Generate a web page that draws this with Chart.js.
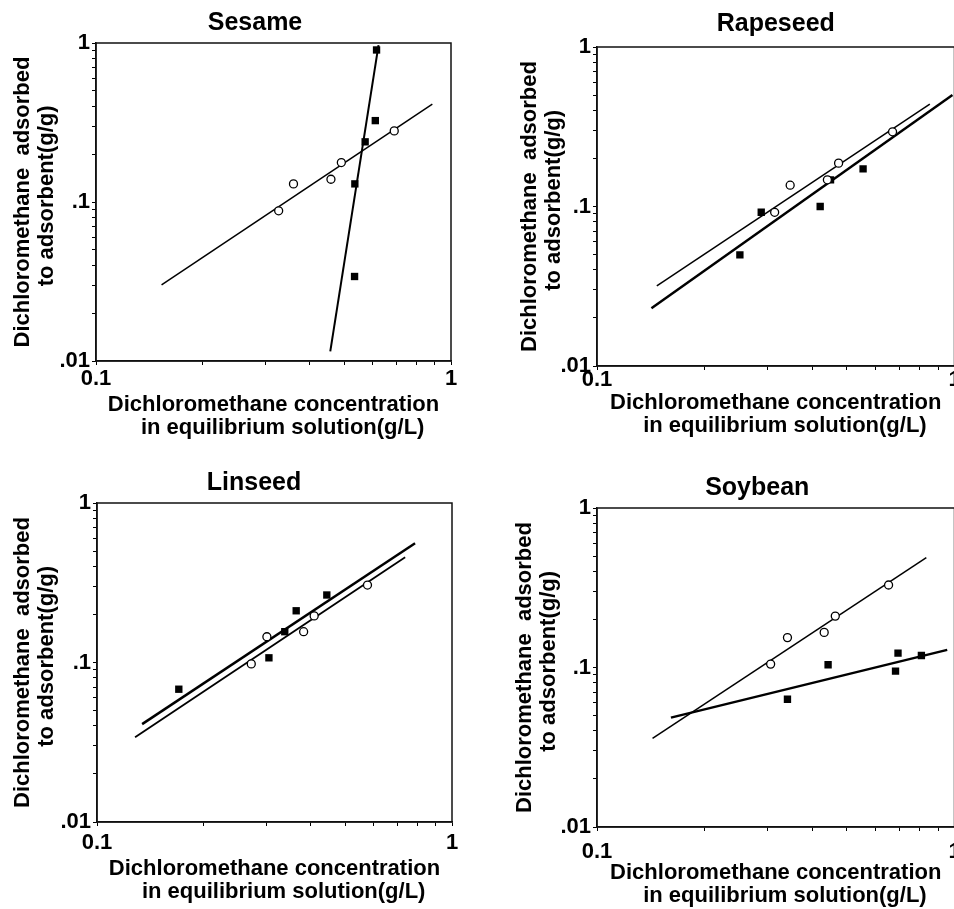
<!DOCTYPE html>
<html>
<head>
<meta charset="utf-8">
<script src="https://cdn.jsdelivr.net/npm/chart.js@4.4.1/dist/chart.umd.min.js"></script>
<style>
html,body{margin:0;padding:0;background:#fff;overflow:hidden;width:954px;height:909px;}
#wrap{position:relative;width:954px;height:909px;overflow:hidden;background:#fff;}
canvas{position:absolute;}
</style>
</head>
<body>
<div id="wrap">
<canvas id="c1"></canvas>
<canvas id="c2"></canvas>
<canvas id="c3"></canvas>
<canvas id="c4"></canvas>
</div>
<script>
// ---------- DATA ----------
const panelTitles = ['Sesame', 'Rapeseed', 'Linseed', 'Soybean'];
const xAxisTitle = ['Dichloromethane concentration', '   in equilibrium solution(g/L)'];
const yAxisTitle = ['Dichloromethane  adsorbed', '  to adsorbent(g/g)'];

const xTickValues = [0.1, 0.2, 0.3, 0.4, 0.5, 0.6, 0.7, 0.8, 0.9, 1];
const yTickValues = [0.01, 0.02, 0.03, 0.04, 0.05, 0.06, 0.07, 0.08, 0.09,
                     0.1, 0.2, 0.3, 0.4, 0.5, 0.6, 0.7, 0.8, 0.9, 1];
const xLabelValues = [0.1, 1];
const xLabelTexts = ['0.1', '1'];
const yLabelValues = [0.01, 0.1, 1];
const yLabelTexts = ['.01', '.1', '1'];

// Sesame
const sesameCircleX = [0.327, 0.360, 0.459, 0.491, 0.692];
const sesameCircleY = [0.088, 0.130, 0.139, 0.177, 0.280];
const sesameSquareX = [0.535, 0.536, 0.573, 0.612, 0.617];
const sesameSquareY = [0.034, 0.130, 0.239, 0.325, 0.904];
const sesameCircleFitX = [0.153, 0.886];
const sesameCircleFitY = [0.0301, 0.413];
const sesameSquareFitX = [0.457, 0.625];
const sesameSquareFitY = [0.0115, 0.971];

// Rapeseed
const rapeCircleX = [0.314, 0.347, 0.441, 0.474, 0.671];
const rapeCircleY = [0.092, 0.136, 0.147, 0.187, 0.294];
const rapeSquareX = [0.251, 0.288, 0.421, 0.450, 0.555];
const rapeSquareY = [0.0497, 0.092, 0.100, 0.147, 0.172];
const rapeCircleFitX = [0.147, 0.853];
const rapeCircleFitY = [0.0318, 0.439];
const rapeSquareFitX = [0.142, 0.987];
const rapeSquareFitY = [0.023, 0.500];

// Linseed
const linCircleX = [0.272, 0.301, 0.382, 0.409, 0.578];
const linCircleY = [0.098, 0.145, 0.156, 0.196, 0.306];
const linSquareX = [0.170, 0.305, 0.338, 0.364, 0.444];
const linSquareY = [0.068, 0.107, 0.156, 0.211, 0.265];
const linCircleFitX = [0.128, 0.738];
const linCircleFitY = [0.034, 0.457];
const linSquareFitX = [0.134, 0.787];
const linSquareFitY = [0.0411, 0.559];

// Soybean
const soyCircleX = [0.306, 0.341, 0.432, 0.464, 0.654];
const soyCircleY = [0.105, 0.154, 0.166, 0.210, 0.329];
const soySquareX = [0.341, 0.443, 0.684, 0.695, 0.808];
const soySquareY = [0.0632, 0.104, 0.095, 0.123, 0.119];
const soyCircleFitX = [0.143, 0.834];
const soyCircleFitY = [0.036, 0.488];
const soySquareFitX = [0.161, 0.954];
const soySquareFitY = [0.0485, 0.129];

// ---------- LAYOUT (positions / styles) ----------
const layouts = [
  {cx: 0,   cy: 0,   W: 477, H: 445, pl: 59, pr: 26,   pb: 5.45, yw: 37, xh: 78.55, tpt: 8,    tpb: 5,   tfs: true,  ytp: -48.1, xtp: 3,  lw: [1.5, 2.0]},
  {cx: 477, cy: 0,   W: 500, H: 445, pl: 70, pr: 22.5, pb: 7.45, yw: 50, xh: 71.55, tpt: 9,    tpb: 8,   tfs: false, ytp: -29.1, xtp: -1, lw: [1.5, 2.5]},
  {cx: 0,   cy: 454, W: 477, H: 455, pl: 56, pr: 25,   pb: 5.45, yw: 41, xh: 81.55, tpt: 14.5, tpb: 4.5, tfs: true,  ytp: -45.1, xtp: 6,  lw: [1.8, 2.5]},
  {cx: 477, cy: 454, W: 500, H: 455, pl: 83, pr: 22.5, pb: 1.45, yw: 37, xh: 80.55, tpt: 19.5, tpb: 4.5, tfs: true,  ytp: -47.1, xtp: 10, lw: [1.5, 2.5]}
];

Chart.defaults.font.family = '"Liberation Sans", Arial, Helvetica, sans-serif';
Chart.defaults.color = '#000';

function labelOf(v, vals, texts) {
  for (let i = 0; i < vals.length; i++) {
    if (Math.abs(v - vals[i]) < 1e-9) return texts[i];
  }
  return '';
}
function pts(xs, ys) { return xs.map((x, i) => ({x: x, y: ys[i]})); }

const framePlugin = {
  id: 'frame',
  beforeDatasetsDraw(chart) {
    const a = chart.chartArea, ctx = chart.ctx;
    ctx.save();
    ctx.strokeStyle = '#111';
    ctx.lineWidth = 1.5;
    ctx.strokeRect(a.left, a.top, a.right - a.left, a.bottom - a.top);
    ctx.restore();
  }
};

function makePanel(id, title, cX, cY, sX, sY, cfX, cfY, sfX, sfY, L) {
  const cv = document.getElementById(id);
  cv.width = L.W; cv.height = L.H;
  cv.style.left = L.cx + 'px'; cv.style.top = L.cy + 'px';
  cv.style.width = L.W + 'px'; cv.style.height = L.H + 'px';
  new Chart(cv, {
    type: 'scatter',
    data: {
      datasets: [
        {data: pts(cfX, cfY), showLine: true, borderColor: '#000', borderWidth: L.lw[0],
         pointRadius: 0, fill: false, order: 2},
        {data: pts(sfX, sfY), showLine: true, borderColor: '#000', borderWidth: L.lw[1],
         pointRadius: 0, fill: false, order: 2},
        {data: pts(cX, cY), pointStyle: 'circle', pointRadius: 4, borderWidth: 1.3,
         borderColor: '#000', backgroundColor: '#fff', order: 1},
        {data: pts(sX, sY), pointStyle: 'rect', pointRadius: 5.2, borderWidth: 0,
         borderColor: '#000', backgroundColor: '#000', order: 1}
      ]
    },
    options: {
      responsive: false,
      animation: false,
      events: [],
      layout: {padding: {left: L.pl, right: L.pr, top: 0, bottom: L.pb}},
      plugins: {
        legend: {display: false},
        tooltip: {enabled: false},
        title: {display: true, text: title, color: '#000', fullSize: L.tfs,
                font: {size: 25, weight: 'bold', lineHeight: 1.2},
                padding: {top: L.tpt, bottom: L.tpb}}
      },
      scales: {
        x: {
          type: 'logarithmic', min: 0.1, max: 1, position: 'bottom',
          afterBuildTicks: s => { s.ticks = xTickValues.map(v => ({value: v})); },
          afterFit: s => { s.height = L.xh; },
          ticks: {autoSkip: false, maxRotation: 0, minRotation: 0, padding: L.xtp, color: '#000',
                  font: {size: 22, weight: 'bold', lineHeight: 1},
                  callback: v => labelOf(v, xLabelValues, xLabelTexts)},
          grid: {drawOnChartArea: false, drawTicks: true, tickLength: 4, color: '#000', lineWidth: 1},
          border: {display: true, color: '#111', width: 1.5},
          title: {display: true, text: xAxisTitle, color: '#000',
                  font: {size: 22, weight: 'bold', lineHeight: 1.05},
                  padding: {top: 0, bottom: 0}}
        },
        y: {
          type: 'logarithmic', min: 0.01, max: 1, position: 'left',
          afterBuildTicks: s => { s.ticks = yTickValues.map(v => ({value: v})); },
          afterFit: s => { s.width = L.yw; },
          ticks: {autoSkip: false, padding: 2, color: '#000',
                  font: {size: 22, weight: 'bold', lineHeight: 1},
                  callback: v => labelOf(v, yLabelValues, yLabelTexts)},
          grid: {drawOnChartArea: false, drawTicks: true, tickLength: 4, color: '#000', lineWidth: 1},
          border: {display: true, color: '#111', width: 1.5},
          title: {display: true, text: yAxisTitle, color: '#000',
                  font: {size: 22, weight: 'bold', lineHeight: 1.1},
                  padding: {top: L.ytp, bottom: 0}}
        }
      }
    },
    plugins: [framePlugin]
  });
}

makePanel('c1', panelTitles[0], sesameCircleX, sesameCircleY, sesameSquareX, sesameSquareY,
          sesameCircleFitX, sesameCircleFitY, sesameSquareFitX, sesameSquareFitY, layouts[0]);
makePanel('c2', panelTitles[1], rapeCircleX, rapeCircleY, rapeSquareX, rapeSquareY,
          rapeCircleFitX, rapeCircleFitY, rapeSquareFitX, rapeSquareFitY, layouts[1]);
makePanel('c3', panelTitles[2], linCircleX, linCircleY, linSquareX, linSquareY,
          linCircleFitX, linCircleFitY, linSquareFitX, linSquareFitY, layouts[2]);
makePanel('c4', panelTitles[3], soyCircleX, soyCircleY, soySquareX, soySquareY,
          soyCircleFitX, soyCircleFitY, soySquareFitX, soySquareFitY, layouts[3]);
</script>
</body>
</html>
